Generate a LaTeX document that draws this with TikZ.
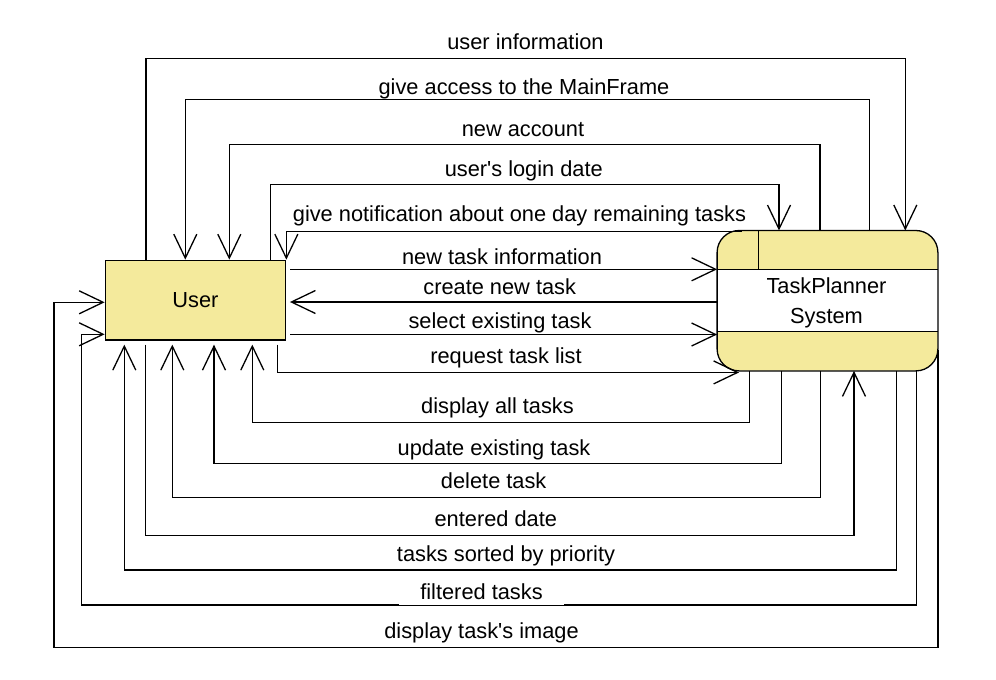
\documentclass[tikz,border=0pt]{standalone}
\usepackage{fontspec}
\setmainfont{Liberation Sans}[Ligatures=TeXOff]
\usetikzlibrary{arrows.meta}
\definecolor{boxyellow}{RGB}{244,234,156}
\begin{document}
\begin{tikzpicture}[x=1pt,y=-1pt,
  plain/.style={draw=black, line width=1.3pt},
  flow/.style={draw=black, line width=1.3pt, -{Straight Barb[length=24pt,width=23pt]}},
  lbl/.style={anchor=base, inner sep=0pt, font=\fontsize{21.8}{26}\selectfont},
  gaplbl/.style={anchor=south, fill=white, inner xsep=21.5pt, inner ysep=0pt, text depth=5pt, font=\fontsize{21.8}{26}\selectfont},
  entity/.style={draw=black, line width=1.3pt, fill=boxyellow, minimum width=180.4pt, minimum height=79.7pt, inner sep=0pt, font=\fontsize{21.8}{26}\selectfont},
  process/.style={fill=boxyellow, rounded corners=22pt, minimum width=220.4pt, minimum height=140pt, inner sep=0pt}
]
\useasboundingbox (0,0) rectangle (996,680);

% nodes
\node[entity] (user) at (195.5,300.15) {User};
\node[process] (sys) at (827.5,300.7) {};
\fill[white] (sys.west |- 0,269.3) rectangle (sys.east |- 0,331.7);
\draw[plain] (sys.west |- 0,269.3) -- (sys.east |- 0,269.3);
\draw[plain] (sys.west |- 0,331.7) -- (sys.east |- 0,331.7);
\draw[plain] (sys.north -| 758.3,0) -- (758.3,269.3);
\draw[plain, rounded corners=22pt] (sys.north west) rectangle (sys.south east);
\node[lbl] (systxt1) at (826.5,293.3) {TaskPlanner};
\node[lbl] (systxt2) at (826.5,323.3) {System};

% top connectors
\draw[flow] (user.north -| 146,0) |- (905.3,58.7) -- (sys.north -| 905.3,0);
\draw[flow] (sys.north -| 869.3,0) |- (185.3,99.3) -- (user.north -| 185.3,0);
\draw[flow] (sys.north -| 820,0) |- (229.3,144.3) -- (user.north -| 229.3,0);
\draw[flow] (user.north -| 270.3,0) |- (779,184.3) -- (sys.north -| 779,0);
\draw[flow] ([shift={(24.7,1)}]sys.north west) -| (user.north east);

% middle connectors
\draw[flow, shorten <=4pt] (user.east |- 0,269.3) -- (sys.west |- 0,269.3);
\draw[flow, shorten >=3.6pt] (sys.west |- 0,302) -- (user.east |- 0,302);
\draw[flow, shorten <=4pt] (user.east |- 0,334.5) -- (sys.west |- 0,334.5);
\draw[flow, shorten <=4pt] (user.south -| 277.7,0) |- ([shift={(22,1.5)}]sys.south west);

% bottom connectors
\draw[flow, shorten >=4pt] (sys.south -| 749.3,0) |- (252.3,422.3) -- (user.south -| 252.3,0);
\draw[flow, shorten >=4pt] (sys.south -| 781.7,0) |- (214,463.3) -- (user.south -| 214,0);
\draw[flow, shorten >=4pt] (sys.south -| 820.3,0) |- (172.3,497.3) -- (user.south -| 172.3,0);
\draw[flow, shorten <=4pt] (user.south -| 145.7,0) |- (854,535.7) -- (sys.south -| 854,0);
\draw[flow, shorten >=4pt] (sys.south -| 896.7,0) |- (124.3,570) -- (user.south -| 124.3,0);
\draw[flow] (sys.south -| 916.7,0) |- (81.3,605) |- (user.west |- 0,334.3);
\draw[flow] (sys.east |- 0,350) |- (54,647.3) |- (user.west |- 0,302.3);

% labels
\node[lbl] (l1) at (525.5,49) {user information};
\node[gaplbl] (l2) at (524,99.3) {give access to the MainFrame};
\node[lbl] (l3) at (523,136.5) {new account};
\node[lbl] (l4) at (523.8,176.7) {user's login date};
\node[lbl] (l5) at (519.5,221.5) {give notification about one day remaining tasks};
\node[lbl] (l6) at (502,264) {new task information};
\node[lbl] (l7) at (499.7,294.3) {create new task};
\node[lbl] (l8) at (500,328.3) {select existing task};
\node[lbl] (l9) at (506,363.3) {request task list};
\node[lbl] (l10) at (497.5,413.3) {display all tasks};
\node[lbl] (l11) at (494,455) {update existing task};
\node[lbl] (l12) at (493.7,488.3) {delete task};
\node[lbl] (l13) at (495.8,526.7) {entered date};
\node[lbl] (l14) at (506,561.7) {tasks sorted by priority};
\node[gaplbl] (l15) at (481.5,605) {filtered tasks};
\node[lbl] (l16) at (481.5,638.3) {display task's image};
\end{tikzpicture}
\end{document}
